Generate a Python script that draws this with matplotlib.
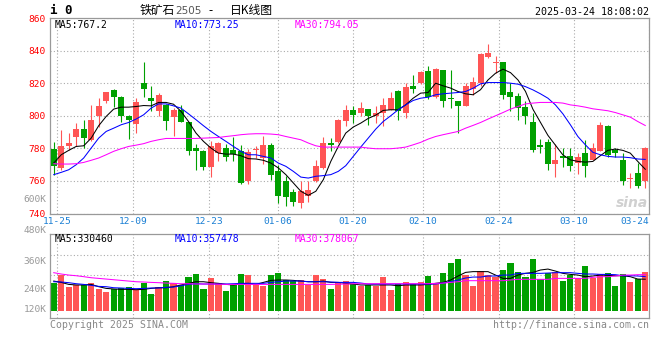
import numpy as np
import matplotlib
matplotlib.use("Agg")
import matplotlib.pyplot as plt


# ==========================================================
# DATA
# ==========================================================

open_ = [779.8, 767.8, 781.2, 786.7, 792.0, 784.9, 799.6, 808.8, 815.7, 811.6,
         800.0, 794.7, 820.4, 811.0, 802.7, 806.7, 799.0, 803.3, 796.3, 780.4,
         778.6, 768.8, 777.0, 780.2, 779.0, 778.7, 759.8, 778.9, 774.0, 782.2,
         766.3, 760.2, 753.3, 746.5, 751.0, 760.0, 768.0, 783.3, 783.7, 797.1,
         803.3, 802.0, 804.1, 800.0, 802.0, 803.7, 815.3, 802.0, 818.4, 820.0,
         827.6, 811.8, 828.2, 811.2, 808.8, 806.1, 816.3, 820.4, 836.3, 832.6,
         833.1, 814.3, 812.2, 805.7, 796.5, 782.2, 783.7, 770.6, 775.5, 775.5,
         771.0, 777.1, 772.7, 778.2, 793.9, 779.2, 773.1, 761.4, 764.9, 760.2]
high = [784.1, 791.4, 789.4, 795.5, 797.6, 806.7, 810.8, 814.9, 816.3, 812.2,
        800.4, 810.8, 833.1, 818.4, 813.9, 807.3, 804.7, 806.7, 796.5, 782.7,
        779.0, 784.3, 784.0, 783.0, 787.2, 782.0, 779.5, 781.5, 787.5, 783.3,
        770.0, 762.9, 755.3, 759.8, 760.0, 773.0, 786.7, 786.3, 798.0, 806.7,
        806.1, 808.4, 804.1, 806.1, 810.8, 814.9, 815.9, 820.0, 825.1, 827.5,
        830.6, 829.2, 828.2, 827.8, 808.8, 820.0, 824.1, 838.4, 844.1, 836.7,
        833.1, 820.0, 813.9, 808.8, 801.6, 785.7, 785.7, 782.9, 780.2, 780.2,
        777.1, 785.3, 783.3, 796.5, 794.5, 780.2, 777.1, 764.9, 771.0, 780.8]
low = [763.9, 767.0, 778.8, 781.6, 780.2, 784.3, 793.1, 807.8, 805.7, 795.9,
       785.9, 789.4, 811.8, 802.7, 799.6, 791.4, 787.8, 796.0, 776.1, 767.0,
       767.0, 762.4, 772.0, 772.0, 772.0, 758.0, 758.0, 774.0, 770.5, 760.5,
       746.5, 744.9, 744.5, 743.5, 747.0, 759.5, 767.3, 778.2, 783.5, 793.5,
       795.5, 800.0, 794.5, 795.5, 793.5, 803.7, 797.6, 798.6, 813.9, 819.6,
       810.4, 810.8, 805.7, 804.7, 789.4, 806.1, 812.9, 818.0, 835.3, 826.1,
       810.4, 802.7, 797.6, 795.1, 777.6, 777.1, 767.0, 762.4, 768.4, 765.9,
       764.5, 762.4, 772.7, 778.2, 774.7, 774.7, 757.8, 755.7, 755.7, 755.7]
close = [769.0, 781.6, 783.5, 792.0, 786.1, 797.6, 806.1, 814.3, 811.6, 800.0,
         797.3, 808.6, 816.5, 809.2, 812.9, 796.9, 803.3, 796.5, 778.2, 778.2,
         768.8, 781.2, 783.5, 774.5, 776.5, 759.0, 777.5, 779.7, 782.0, 763.9,
         750.8, 750.0, 747.1, 754.1, 754.2, 769.0, 783.3, 782.2, 797.6, 803.7,
         800.2, 804.7, 800.0, 801.6, 806.7, 810.8, 802.7, 817.6, 816.5, 827.1,
         811.8, 828.6, 808.8, 810.6, 806.3, 818.4, 821.0, 837.8, 838.8, 833.0,
         812.9, 811.8, 804.7, 799.6, 779.2, 780.6, 770.6, 773.1, 774.1, 769.0,
         774.7, 769.4, 780.2, 794.5, 776.1, 777.1, 759.8, 762.0, 757.1, 780.2]

ma5 = [771.0, 776.1, 778.8, 781.2, 781.6, 786.3, 793.9, 799.6, 804.1, 805.3,
       805.3, 805.7, 806.3, 806.1, 808.2, 808.2, 807.1, 802.7, 796.5, 789.4,
       784.3, 780.2, 777.1, 776.5, 776.5, 775.5, 773.7, 773.5, 772.7, 771.0,
       768.0, 763.9, 758.8, 753.7, 751.2, 753.7, 760.8, 772.0, 781.2, 789.4,
       793.1, 795.5, 798.4, 800.4, 803.3, 803.7, 803.7, 806.7, 810.8, 813.9,
       814.3, 820.0, 818.4, 817.0, 814.9, 813.5, 812.9, 816.0, 822.0, 826.1,
       828.6, 826.5, 822.0, 815.0, 804.0, 796.0, 788.0, 782.0, 776.0, 773.0,
       772.0, 771.6, 772.0, 775.5, 778.8, 779.6, 778.8, 777.1, 772.0, 767.2]
ma10 = [763.9, 765.3, 766.9, 770.0, 774.1, 780.2, 786.3, 790.4, 792.4, 794.5,
        795.9, 798.0, 800.6, 804.7, 807.3, 807.3, 806.1, 804.7, 801.2, 797.6,
        793.9, 790.4, 787.3, 784.3, 781.2, 778.2, 776.1, 776.1, 775.1, 774.1,
        771.0, 769.0, 765.9, 762.4, 761.8, 762.9, 763.3, 763.9, 765.9, 769.4,
        775.1, 780.8, 786.3, 791.8, 796.5, 800.0, 803.7, 806.7, 809.4, 810.8,
        811.4, 812.9, 813.5, 813.9, 814.3, 814.9, 816.9, 819.6, 820.4, 820.4,
        820.4, 820.0, 819.4, 817.9, 815.9, 813.5, 810.8, 806.7, 801.2, 794.5,
        787.3, 782.2, 777.6, 776.1, 775.1, 774.7, 774.7, 774.3, 773.5, 773.25]
ma30 = [770.6, 770.4, 770.4, 770.6, 771.4, 772.7, 774.1, 776.1, 778.2, 779.8,
        781.2, 782.0, 782.9, 784.3, 785.3, 786.1, 786.1, 786.1, 786.1, 786.1,
        786.3, 786.5, 786.7, 787.3, 787.8, 788.4, 788.8, 789.0, 789.0, 788.8,
        788.4, 787.3, 786.3, 785.3, 783.3, 781.6, 780.8, 780.8, 780.8, 780.8,
        780.8, 780.8, 780.2, 779.8, 779.8, 779.8, 780.2, 780.8, 782.2, 783.7,
        785.7, 787.3, 788.4, 789.4, 790.4, 792.4, 794.1, 795.9, 798.0, 800.0,
        802.0, 804.1, 805.7, 807.3, 807.8, 808.2, 808.2, 808.2, 807.8, 806.7,
        806.1, 805.3, 804.3, 803.7, 803.1, 802.0, 800.6, 799.2, 796.5, 794.05]

# volume, thousands of lots
vol_k = [287, 375, 245, 270, 270, 294, 231, 192, 224, 234,
         252, 228, 294, 178, 245, 315, 294, 270, 357, 388,
         231, 340, 294, 210, 270, 388, 371, 270, 262, 378,
         399, 325, 315, 319, 270, 371, 336, 231, 301, 311,
         280, 259, 270, 259, 357, 220, 280, 304, 283, 304,
         367, 276, 399, 504, 546, 375, 262, 420, 375, 357,
         430, 504, 410, 354, 546, 329, 399, 410, 315, 375,
         347, 473, 347, 388, 399, 262, 388, 304, 329, 410]
vma5_k = [311, 297, 276, 270, 270, 276, 252, 234, 228, 224,
          224, 220, 224, 234, 241, 241, 252, 270, 287, 304,
          304, 294, 287, 276, 270, 283, 287, 276, 297, 318,
          322, 322, 318, 311, 304, 304, 311, 297, 297, 287,
          280, 270, 270, 270, 270, 270, 262, 270, 270, 270,
          276, 287, 297, 322, 364, 402, 410, 410, 410, 374,
          339, 339, 374, 392, 402, 427, 437, 416, 392, 381,
          374, 357, 364, 374, 371, 367, 367, 357, 332, 330.46]
vma10_k = [304, 301, 294, 283, 276, 266, 255, 252, 241, 238,
           234, 231, 234, 238, 238, 245, 248, 262, 276, 283,
           280, 280, 280, 280, 283, 287, 287, 287, 287, 297,
           304, 311, 311, 311, 304, 304, 304, 301, 297, 297,
           297, 290, 280, 280, 280, 280, 280, 280, 280, 280,
           280, 280, 290, 304, 322, 343, 353, 353, 364, 364,
           374, 374, 392, 392, 392, 392, 395, 399, 399, 399,
           392, 385, 385, 381, 381, 378, 367, 367, 364, 357.48]
vma30_k = [399, 385, 374, 367, 357, 346, 339, 332, 325, 318,
           311, 304, 301, 297, 294, 290, 287, 283, 283, 280,
           280, 280, 278, 276, 276, 276, 276, 276, 276, 276,
           276, 276, 276, 276, 276, 276, 276, 276, 278, 280,
           283, 283, 283, 283, 283, 283, 283, 283, 283, 283,
           283, 287, 290, 297, 304, 315, 315, 315, 315, 315,
           315, 322, 329, 329, 329, 329, 329, 339, 339, 339,
           339, 339, 350, 357, 357, 364, 374, 374, 378, 378.07]

date_labels = ["11-25", "12-09", "12-23", "01-06", "01-20",
               "02-10", "02-24", "03-10", "03-24"]
price_ticks = [740, 760, 780, 800, 820, 840, 860]
vol_labels = ["600K", "480K", "360K", "240K", "120K"]


# ==========================================================
# STYLE
# ==========================================================

RED = "#FF5555"
GREEN = "#00A000"
GRID = "#AAAAAA"
EDGE = "#999999"
DATE_BLUE = "#1A7FD4"
MONO = "DejaVu Sans Mono"
CJK = ["Noto Sans CJK SC", "DejaVu Sans"]
LW = 0.75

W, H = 660, 360


def fx(px):
    return px / W


def fy(py):
    return 1 - py / H


x = np.arange(len(close))
o = np.array(open_)
c = np.array(close)
colors = np.where(c >= o, RED, GREEN)

fig = plt.figure(figsize=(6.6, 3.6), dpi=100)
fig.patch.set_facecolor("white")

ax = fig.add_axes([fx(50), fy(213.6), fx(649) - fx(50), fy(18) - fy(213.6)])
axv = fig.add_axes([fx(50), fy(318.3), fx(649) - fx(50), fy(234.3) - fy(318.3)])

# gridline positions on the date axis (sina spaces them slightly wider)
grid_pos = [0.5, 10.6, 20.8, 29.9, 40.0, 49.3, 59.4, 69.5, 79.5]

for a in (ax, axv):
    a.set_xlim(-0.5, len(close) - 0.5)
    for s in a.spines.values():
        s.set_color(EDGE)
        s.set_linewidth(0.9)
    a.set_xticks(grid_pos)
    a.grid(True, ls=(0, (1, 2)), color=GRID, lw=0.8)
    a.set_axisbelow(True)
    a.tick_params(length=0)


# ==========================================================
# PRICE PANEL
# ==========================================================

ax.vlines(x, low, high, colors=colors, lw=0.8, zorder=2)
body_lo = np.minimum(o, c)
body_h = np.maximum(np.abs(c - o), 0.6)
ax.bar(x, body_h, bottom=body_lo, width=0.8, color=colors, linewidth=0, zorder=3)

ax.plot(x, ma5, color="black", lw=LW, zorder=4)
ax.plot(x, ma10, color="#0000FF", lw=LW, zorder=4)
ax.plot(x, ma30, color="#FF00FF", lw=LW, zorder=4)

ax.set_ylim(740, 860)
ax.set_yticks(price_ticks)
ax.set_yticklabels([str(t) for t in price_ticks], family=MONO, fontsize=6.8, color="red")
ax.tick_params(axis="y", pad=3)
ax.set_xticklabels(date_labels, family=MONO, fontsize=6.8, color=DATE_BLUE)
ax.tick_params(axis="x", pad=2.5)
ax.get_xticklabels()[-1].set_horizontalalignment("right")

ax.text(0.998, 0.02, "sina", transform=ax.transAxes, ha="right", va="bottom",
        fontsize=10, fontweight="bold", style="italic", color="#D0D0D0", zorder=1)


# ==========================================================
# VOLUME PANEL
# ==========================================================

vol = np.array(vol_k) * 1000
axv.bar(x, vol, width=0.82, color=colors, linewidth=0, zorder=2)
axv.plot(x, np.array(vma5_k) * 1000, color="black", lw=LW, zorder=3)
axv.plot(x, np.array(vma10_k) * 1000, color="#0000FF", lw=LW, zorder=3)
axv.plot(x, np.array(vma30_k) * 1000, color="#FF00FF", lw=LW, zorder=3)

axv.set_ylim(-80000, 802000)
axv.set_yticks([165000, 375000, 585000])
axv.set_yticklabels([])
axv.set_xticklabels([])

# volume scale labels (sina draws them off the gridlines)
for lbl, py in zip(vol_labels, [200, 230.7, 261, 290, 310]):
    fig.text(fx(46.5), fy(py), lbl, ha="right", va="center", family=MONO,
             fontsize=6.8, color="#999999")


# ==========================================================
# TEXT
# ==========================================================

fig.text(fx(50.5), fy(11), "i 0", family=MONO, fontsize=9, fontweight="bold",
         va="center", ha="left")
fig.text(fx(140), fy(10.5), "铁矿石", family=CJK, fontsize=8.5, va="center", ha="left")
fig.text(fx(175.5), fy(11), "2505", family="DejaVu Sans", fontsize=7.5, va="center",
         ha="left", color="#555555")
fig.text(fx(208), fy(10.5), "-", family=CJK, fontsize=8.5, va="center", ha="left")
fig.text(fx(230), fy(10.5), "日K线图", family=CJK, fontsize=8.5, va="center", ha="left")
fig.text(fx(649), fy(12), "2025-03-24 18:08:02", family=MONO, fontsize=7.2,
         va="center", ha="right")

legend_main = [("MA5:767.2", "black", 55), ("MA10:773.25", "#0000FF", 175),
               ("MA30:794.05", "#FF00FF", 295)]
for t, col, px in legend_main:
    fig.text(fx(px), fy(24.5), t, family=MONO, fontsize=7, color=col,
             va="center", ha="left")

legend_vol = [("MA5:330460", "black", 55), ("MA10:357478", "#0000FF", 175),
              ("MA30:378067", "#FF00FF", 295)]
for t, col, px in legend_vol:
    fig.text(fx(px), fy(238.5), t, family=MONO, fontsize=7, color=col,
             va="center", ha="left")

fig.text(fx(50), fy(324.5), "Copyright 2025 SINA.COM", family=MONO, fontsize=7.1,
         color="#888888", va="center", ha="left")
fig.text(fx(649), fy(324.5), "http://finance.sina.com.cn", family=MONO, fontsize=7.1,
         color="#888888", va="center", ha="right")

fig.savefig("out.png", dpi=100)
